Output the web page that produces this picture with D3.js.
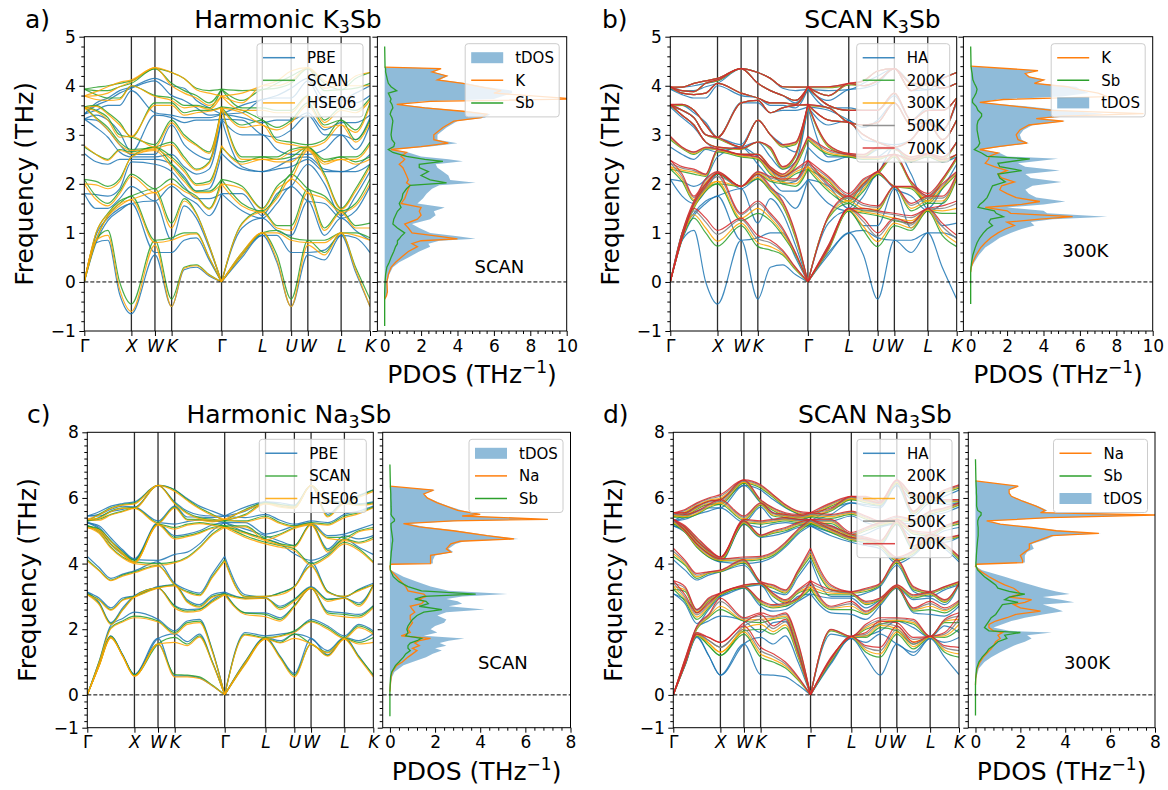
<!DOCTYPE html>
<html lang="en">
<head>
<meta charset="UTF-8">
<title>Phonon bands and PDOS of K3Sb and Na3Sb</title>
<script src="https://d3js.org/d3.v7.min.js"></script>
<style>
  body { margin: 0; background: #fff; }
  svg { display: block; }
</style>
</head>
<body>
<svg id="fig" width="1168" height="790"></svg>
<script>
// k-path (cumulative length along Γ-X-W-K-Γ-L-U-W-L-K)
const kPath = [0, 0.25, 0.5, 0.75, 1, 1.5, 1.854, 2.12, 2.38, 2.65, 2.914, 3.35, 3.78, 4.09, 4.392, 4.746, 5.1, 5.453, 5.76, 6.066];
// which table row each k-point reads (Γ, W, L, K come back along the path)
const kRow = [0, 1, 2, 3, 4, 5, 6, 7, 8, 9, 0, 10, 11, 12, 13, 5, 14, 11, 15, 6];
const kTicks = [0, 1, 1.5, 1.854, 2.914, 3.78, 4.392, 4.746, 5.453, 6.066];
const kLabels = ["Γ", "X", "W", "K", "Γ", "L", "U", "W", "L", "K"];
// curves are broken only at Γ, where the acoustic branches have a kink
const kSegments = [[0, 10], [10, 19]];

// band tables: rows = Γ, Γ-X(3), X, W, K, K-Γ(3), Γ-L, L, L-U, U, W-L, L-K ; 12 branches each (THz)
const k3sbPBE = [
  [0,0,0,1.8,1.8,2.62,3.32,3.32,3.32,3.42,3.42,3.42],
  [0.8,0.8,0.95,1.5,1.78,2.45,3.15,3.3,3.4,3.5,3.6,3.65],
  [0.85,1.25,1.3,1.5,1.75,2.4,2.95,3.1,3.3,3.6,3.7,3.75],
  [-0.25,1.45,1.5,1.7,1.9,2.5,2.65,2.8,3.05,3.6,3.85,3.9],
  [-0.65,1.6,1.6,1.95,2.45,2.5,2.55,2.6,2.65,3.9,3.95,3.97],
  [0.55,0.6,1.65,1.65,2.4,2.5,2.55,2.6,3.4,3.45,4.1,4.15],
  [-0.5,0.6,0.85,1.95,2.25,2.4,2.6,3.2,3.35,3.4,3.8,4.0],
  [0.25,0.85,1.55,1.75,1.95,2.15,2.35,2.8,3.25,3.35,3.7,3.95],
  [0.3,0.9,1.3,1.6,1.7,1.85,2.2,2.6,3.3,3.35,3.55,3.7],
  [0.12,0.45,0.7,1.35,1.7,1.9,2.3,2.5,3.3,3.35,3.4,3.55],
  [0.5,0.55,1.1,1.45,1.8,2.3,2.35,3.0,3.3,3.35,3.45,3.6],
  [0.95,0.95,1.3,1.3,1.35,2.25,2.25,3.0,3.0,3.25,3.72,3.72],
  [0.4,0.95,1.05,1.6,1.8,2.3,2.35,2.7,2.95,3.3,3.75,3.8],
  [-0.5,0.6,0.95,1.95,1.95,2.35,2.5,2.6,3.1,3.3,3.75,3.95],
  [0.45,0.65,0.95,1.6,2.0,2.25,2.3,2.7,3.0,3.1,3.6,3.75],
  [0.2,0.9,1.05,1.45,1.75,2.25,2.35,2.7,2.9,3.25,3.65,3.85]
];
const k3sbSCAN = [
  [0,0,0,2.09,2.09,2.75,3.57,3.57,3.57,3.93,3.93,3.93],
  [0.85,0.85,1.0,1.75,2.05,2.6,3.35,3.5,3.6,3.82,3.9,3.97],
  [1.05,1.35,1.4,1.6,1.95,2.5,3.15,3.35,3.45,3.75,3.9,4.0],
  [0.0,1.6,1.65,1.85,2.1,2.7,2.85,3.0,3.25,3.75,3.98,4.05],
  [-0.45,1.75,1.75,2.2,2.55,2.65,2.7,2.95,2.95,4.0,4.05,4.1],
  [0.85,0.85,1.9,1.9,2.75,2.75,2.75,2.8,3.65,3.8,4.35,4.35],
  [-0.35,0.9,1.2,2.1,2.4,2.55,2.85,3.3,3.65,3.75,4.05,4.27],
  [0.3,1.0,1.7,1.9,2.1,2.3,2.55,3.0,3.45,3.6,3.9,4.15],
  [0.35,1.0,1.4,1.75,1.85,2.0,2.3,2.8,3.5,3.6,3.8,3.95],
  [0.15,0.5,0.75,1.5,1.85,2.05,2.45,2.65,3.5,3.55,3.65,3.9],
  [0.55,0.6,1.2,1.6,1.95,2.45,2.55,3.2,3.5,3.55,3.7,3.9],
  [1.0,1.0,1.45,1.45,1.5,2.55,2.55,3.3,3.3,3.55,3.92,3.92],
  [0.55,1.05,1.15,1.75,1.95,2.5,2.55,2.9,3.15,3.5,3.95,4.05],
  [-0.35,0.9,1.15,2.2,2.2,2.55,2.7,2.85,3.3,3.5,4.05,4.2],
  [0.6,0.85,1.1,1.75,2.2,2.45,2.5,2.9,3.2,3.3,3.9,4.05],
  [0.3,1.0,1.15,1.6,1.9,2.45,2.55,2.9,3.1,3.5,3.95,4.15]
];
const k3sbHSE06 = [
  [0,0,0,2.0,2.0,2.78,3.55,3.55,3.55,3.79,3.79,3.79],
  [0.85,0.85,1.0,1.68,1.98,2.6,3.33,3.48,3.58,3.72,3.8,3.88],
  [0.95,1.33,1.38,1.55,1.9,2.48,3.1,3.3,3.42,3.7,3.85,3.98],
  [-0.15,1.55,1.6,1.8,2.05,2.68,2.8,2.95,3.2,3.72,3.98,4.07],
  [-0.6,1.68,1.68,2.15,2.55,2.62,2.68,2.97,2.97,4.0,4.08,4.12],
  [0.75,0.8,1.82,1.82,2.68,2.7,2.72,2.75,3.6,3.78,4.37,4.37],
  [-0.5,0.85,1.1,2.0,2.35,2.5,2.8,3.25,3.6,3.7,4.0,4.27],
  [0.28,0.95,1.65,1.85,2.05,2.25,2.5,2.95,3.4,3.55,3.85,4.15],
  [0.33,0.98,1.38,1.72,1.82,1.97,2.28,2.78,3.45,3.58,3.75,3.92],
  [0.14,0.5,0.74,1.48,1.82,2.0,2.42,2.62,3.48,3.52,3.6,3.85],
  [0.55,0.6,1.18,1.55,1.9,2.4,2.5,3.15,3.45,3.5,3.65,3.85],
  [1.0,1.0,1.42,1.42,1.48,2.5,2.5,3.2,3.2,3.5,4.0,4.0],
  [0.45,1.0,1.1,1.7,1.9,2.45,2.5,2.85,3.1,3.45,4.0,4.1],
  [-0.5,0.85,1.05,2.1,2.1,2.45,2.65,2.8,3.25,3.45,4.1,4.3],
  [0.55,0.8,1.05,1.7,2.15,2.4,2.45,2.85,3.15,3.25,3.95,4.1],
  [0.25,0.95,1.1,1.55,1.85,2.4,2.5,2.85,3.05,3.45,4.0,4.2]
];
const k3sb200K = [
  [0,0,0,2.3,2.3,2.9,3.6,3.6,3.6,3.96,3.96,3.96],
  [0.88,0.88,0.98,2.05,2.25,2.72,3.4,3.5,3.6,3.85,3.9,3.97],
  [1.3,1.5,1.55,1.65,2.2,2.6,3.2,3.35,3.5,3.82,3.88,4.05],
  [1.0,1.85,1.9,2.0,2.15,2.72,2.85,3.0,3.2,3.85,4.05,4.1],
  [0.73,2.0,2.0,2.2,2.65,2.7,2.75,2.92,2.95,4.05,4.1,4.15],
  [1.15,1.25,1.95,1.95,2.55,2.6,2.7,2.75,3.65,3.85,4.35,4.35],
  [0.72,1.4,2.1,2.2,2.5,2.6,2.85,3.3,3.7,3.75,4.05,4.27],
  [0.65,1.25,1.85,2.05,2.2,2.3,2.7,3.0,3.45,3.65,3.9,4.15],
  [0.55,0.95,1.55,2.0,2.05,2.15,2.3,2.75,3.55,3.65,3.8,3.98],
  [0.25,0.55,0.9,1.95,2.2,2.35,2.55,2.8,3.6,3.62,3.7,3.97],
  [0.65,0.7,1.3,1.85,2.05,2.6,2.75,3.3,3.55,3.6,3.8,3.96],
  [1.45,1.45,1.6,1.6,1.65,2.55,2.58,3.25,3.25,3.5,4.02,4.02],
  [1.05,1.4,1.45,1.85,2.0,2.5,2.55,3.0,3.2,3.5,4.0,4.1],
  [0.72,1.35,1.45,2.2,2.2,2.5,2.72,2.85,3.25,3.5,4.1,4.3],
  [1.05,1.2,1.45,1.9,2.0,2.45,2.5,2.9,3.2,3.3,3.9,4.05],
  [0.95,1.4,1.6,1.9,2.05,2.45,2.5,2.9,3.1,3.5,3.95,4.15]
];
const k3sb300K = [
  [0,0,0,2.35,2.35,2.93,3.6,3.6,3.6,3.97,3.97,3.97],
  [0.89,0.89,0.99,2.1,2.28,2.73,3.4,3.5,3.61,3.85,3.9,3.97],
  [1.37,1.53,1.58,1.68,2.24,2.62,3.2,3.35,3.5,3.82,3.88,4.05],
  [1.1,1.88,1.93,2.03,2.17,2.73,2.85,3.0,3.2,3.85,4.05,4.1],
  [0.83,2.05,2.05,2.22,2.67,2.7,2.75,2.93,2.95,4.05,4.11,4.15],
  [1.2,1.3,1.95,1.95,2.57,2.6,2.71,2.75,3.65,3.85,4.35,4.35],
  [0.8,1.5,2.13,2.22,2.52,2.6,2.85,3.3,3.7,3.75,4.05,4.27],
  [0.72,1.3,1.88,2.08,2.24,2.32,2.72,3.0,3.45,3.65,3.9,4.15],
  [0.58,1.0,1.58,2.03,2.08,2.17,2.32,2.77,3.55,3.65,3.8,3.98],
  [0.27,0.57,0.93,2.0,2.24,2.39,2.57,2.82,3.6,3.62,3.7,3.97],
  [0.67,0.72,1.32,1.9,2.08,2.63,2.77,3.3,3.55,3.6,3.8,3.97],
  [1.47,1.47,1.65,1.65,1.7,2.57,2.6,3.25,3.25,3.5,4.03,4.03],
  [1.13,1.43,1.5,1.9,2.03,2.52,2.57,3.0,3.2,3.5,4.0,4.1],
  [0.82,1.38,1.48,2.22,2.22,2.52,2.73,2.85,3.25,3.5,4.1,4.3],
  [1.1,1.25,1.5,1.92,2.02,2.47,2.52,2.9,3.2,3.3,3.9,4.05],
  [1.03,1.45,1.65,1.93,2.07,2.47,2.52,2.9,3.1,3.5,3.95,4.15]
];
const k3sb500K = [
  [0,0,0,2.42,2.42,2.95,3.61,3.61,3.61,3.97,3.97,3.97],
  [0.9,0.9,1.0,2.15,2.32,2.74,3.4,3.5,3.62,3.85,3.9,3.97],
  [1.45,1.57,1.62,1.72,2.27,2.64,3.2,3.35,3.5,3.82,3.88,4.05],
  [1.22,1.92,1.97,2.07,2.19,2.74,2.85,3.0,3.2,3.85,4.05,4.1],
  [0.97,2.15,2.15,2.24,2.69,2.71,2.75,2.94,2.95,4.05,4.12,4.15],
  [1.27,1.37,1.95,1.95,2.59,2.6,2.72,2.75,3.65,3.85,4.35,4.35],
  [0.88,1.6,2.17,2.24,2.54,2.6,2.85,3.3,3.7,3.75,4.05,4.27],
  [0.8,1.36,1.92,2.12,2.28,2.34,2.74,3.0,3.45,3.65,3.9,4.15],
  [0.62,1.06,1.62,2.07,2.12,2.19,2.34,2.79,3.55,3.65,3.8,3.98],
  [0.29,0.59,0.97,2.06,2.28,2.43,2.59,2.84,3.6,3.62,3.7,3.97],
  [0.69,0.74,1.34,1.96,2.12,2.67,2.79,3.3,3.55,3.6,3.8,3.98],
  [1.49,1.49,1.71,1.71,1.76,2.59,2.61,3.25,3.25,3.5,4.04,4.04],
  [1.23,1.47,1.56,1.96,2.07,2.54,2.59,3.0,3.2,3.5,4.0,4.1],
  [0.93,1.42,1.52,2.24,2.24,2.54,2.74,2.85,3.25,3.5,4.1,4.3],
  [1.16,1.31,1.56,1.94,2.04,2.49,2.54,2.9,3.2,3.3,3.9,4.05],
  [1.13,1.5,1.71,1.97,2.09,2.49,2.54,2.9,3.1,3.5,3.95,4.15]
];
const k3sb700K = [
  [0,0,0,2.48,2.48,2.97,3.62,3.62,3.62,3.98,3.98,3.98],
  [0.9,0.9,1.0,2.2,2.35,2.75,3.4,3.5,3.62,3.85,3.9,3.97],
  [1.5,1.6,1.65,1.75,2.3,2.65,3.2,3.35,3.5,3.82,3.88,4.05],
  [1.3,1.95,2.0,2.1,2.2,2.75,2.85,3.0,3.2,3.85,4.05,4.1],
  [1.05,2.22,2.22,2.25,2.7,2.72,2.75,2.95,2.95,4.05,4.12,4.15],
  [1.3,1.4,1.95,1.95,2.6,2.6,2.72,2.75,3.65,3.85,4.35,4.35],
  [0.95,1.65,2.2,2.25,2.55,2.6,2.85,3.3,3.7,3.75,4.05,4.27],
  [0.85,1.4,1.95,2.15,2.3,2.35,2.75,3.0,3.45,3.65,3.9,4.15],
  [0.65,1.1,1.65,2.1,2.15,2.2,2.35,2.8,3.55,3.65,3.8,3.98],
  [0.3,0.6,1.0,2.1,2.3,2.45,2.6,2.85,3.6,3.62,3.7,3.97],
  [0.7,0.75,1.35,2.0,2.15,2.7,2.8,3.3,3.55,3.6,3.8,3.98],
  [1.5,1.5,1.75,1.75,1.8,2.6,2.62,3.25,3.25,3.5,4.05,4.05],
  [1.3,1.5,1.6,2.0,2.1,2.55,2.6,3.0,3.2,3.5,4.0,4.1],
  [1.0,1.45,1.55,2.25,2.25,2.55,2.75,2.85,3.25,3.5,4.1,4.3],
  [1.2,1.35,1.6,1.95,2.05,2.5,2.55,2.9,3.2,3.3,3.9,4.05],
  [1.2,1.55,1.75,2.0,2.1,2.5,2.55,2.9,3.1,3.5,3.95,4.15]
];

const na3sbPBE = [
  [0,0,0,3.13,3.13,4.22,5.25,5.25,5.25,5.45,5.45,5.45],
  [0.92,0.92,1.02,2.82,2.95,3.88,5.05,5.1,5.15,5.45,5.5,5.58],
  [1.78,1.8,2.12,2.2,2.65,3.55,4.58,4.68,4.78,5.58,5.65,5.75],
  [1.22,1.22,2.33,2.65,2.95,3.68,4.28,4.38,4.42,5.65,5.75,5.83],
  [0.62,0.62,2.52,3.02,3.02,3.78,4.12,4.12,4.15,5.72,5.72,5.88],
  [1.72,1.72,2.3,3.25,3.3,4.05,4.1,5.22,5.25,5.3,6.38,6.38],
  [0.58,1.86,1.95,2.72,3.35,3.4,4.28,4.85,5.2,5.75,5.88,6.25],
  [0.58,1.62,2.25,2.6,2.9,3.2,4.35,4.9,5.28,5.42,5.6,5.98],
  [0.52,1.85,2.3,2.62,2.75,3.1,4.6,5.0,5.32,5.42,5.48,5.75],
  [0.28,1.02,1.38,2.9,3.05,3.68,5.0,5.18,5.3,5.4,5.45,5.6],
  [0.97,1.02,1.9,2.5,2.95,3.05,4.95,5.05,5.25,5.4,5.6,5.72],
  [1.75,1.75,1.8,2.5,2.95,2.98,4.75,4.85,4.9,5.5,5.88,5.88],
  [1.18,1.65,1.85,2.35,2.7,3.12,4.6,4.68,5.0,5.32,5.8,5.85],
  [0.65,1.85,1.92,2.72,2.92,3.3,4.3,4.55,5.15,5.2,5.72,5.78],
  [1.22,1.35,2.1,2.55,2.92,3.15,4.3,4.45,4.85,5.25,5.5,5.92],
  [1.18,1.65,2.15,2.45,2.8,3.22,4.5,4.75,5.05,5.6,5.82,6.08]
];
const na3sbSCAN = [
  [0,0,0,3.08,3.08,4.12,5.15,5.15,5.15,5.3,5.3,5.3],
  [0.9,0.9,1.0,2.78,2.9,3.8,4.95,5.0,5.05,5.35,5.4,5.5],
  [1.75,1.78,2.05,2.17,2.6,3.5,4.5,4.6,4.7,5.5,5.6,5.7],
  [1.2,1.2,2.25,2.6,2.9,3.65,4.2,4.3,4.35,5.6,5.7,5.8],
  [0.6,0.6,2.4,3.0,3.0,3.75,4.05,4.05,4.1,5.7,5.7,5.85],
  [1.55,1.55,2.25,3.25,3.27,3.95,4.0,5.2,5.2,5.25,6.38,6.38],
  [0.62,1.75,1.9,2.7,3.35,3.35,4.05,4.8,5.1,5.72,5.85,6.24],
  [0.6,1.55,2.2,2.55,2.85,3.15,4.2,4.85,5.2,5.35,5.55,5.95],
  [0.55,1.8,2.25,2.6,2.7,3.05,4.5,4.95,5.25,5.35,5.4,5.7],
  [0.3,1.0,1.35,2.85,3.0,3.6,4.9,5.1,5.2,5.3,5.35,5.5],
  [0.95,1.0,1.85,2.5,2.95,3.0,4.85,4.95,5.15,5.3,5.5,5.65],
  [1.72,1.72,1.75,2.45,2.95,3.0,4.65,4.75,4.8,5.45,5.85,5.85],
  [1.15,1.6,1.8,2.3,2.65,3.1,4.55,4.6,4.9,5.25,5.75,5.8],
  [0.6,1.85,1.95,2.72,2.9,3.3,4.45,4.55,5.1,5.15,5.7,5.75],
  [1.2,1.3,2.05,2.5,2.9,3.15,4.25,4.4,4.8,5.2,5.45,5.9],
  [1.15,1.6,2.1,2.4,2.75,3.2,4.45,4.65,5.0,5.55,5.8,6.05]
];
const na3sbHSE06 = [
  [0,0,0,3.05,3.05,4.08,5.1,5.1,5.1,5.35,5.35,5.35],
  [0.88,0.88,0.98,2.75,2.88,3.78,4.92,4.98,5.02,5.32,5.38,5.48],
  [1.73,1.76,2.02,2.14,2.58,3.48,4.47,4.57,4.67,5.48,5.58,5.68],
  [1.18,1.18,2.22,2.58,2.88,3.62,4.17,4.27,4.32,5.58,5.68,5.78],
  [0.57,0.57,2.35,2.98,2.98,3.72,4.0,4.02,4.05,5.68,5.68,5.82],
  [1.55,1.55,2.22,3.25,3.25,3.92,3.95,5.18,5.18,5.22,6.38,6.38],
  [0.55,1.6,1.85,2.65,3.32,3.35,4.02,4.75,5.05,5.7,5.82,6.2],
  [0.55,1.5,2.15,2.52,2.82,3.12,4.17,4.82,5.17,5.32,5.52,5.92],
  [0.5,1.76,2.2,2.56,2.67,3.02,4.47,4.92,5.22,5.32,5.37,5.67],
  [0.28,0.98,1.32,2.82,2.97,3.57,4.87,5.07,5.17,5.27,5.32,5.47],
  [0.93,0.98,1.82,2.45,2.92,2.98,4.8,4.92,5.12,5.27,5.47,5.62],
  [1.7,1.7,1.72,2.38,2.95,3.0,4.6,4.7,4.72,5.4,5.82,5.82],
  [1.12,1.58,1.78,2.25,2.6,3.05,4.5,4.57,4.87,5.22,5.72,5.77],
  [0.55,1.72,1.9,2.68,2.85,3.28,4.4,4.5,5.07,5.12,5.68,5.72],
  [1.18,1.28,2.0,2.45,2.85,3.12,4.2,4.35,4.77,5.17,5.42,5.87],
  [1.12,1.55,2.05,2.35,2.7,3.17,4.4,4.62,4.97,5.52,5.77,6.02]
];
const na3sb200K = [
  [0,0,0,3.22,3.22,4.22,5.22,5.22,5.22,5.42,5.42,5.42],
  [0.92,0.97,1.05,2.85,3.15,3.95,4.95,5.0,5.05,5.4,5.45,5.55],
  [1.8,1.85,2.0,2.3,2.5,3.55,4.5,4.6,4.7,5.5,5.65,5.75],
  [1.5,1.5,2.35,2.65,2.85,3.7,4.2,4.3,4.35,5.7,5.8,5.9],
  [1.2,1.2,2.6,3.05,3.05,3.75,4.08,4.1,4.12,5.8,5.8,5.95],
  [1.85,1.95,2.25,3.27,3.3,4.02,4.08,5.22,5.25,5.32,6.45,6.45],
  [1.15,2.0,2.2,2.78,3.38,3.4,4.12,4.82,5.2,5.78,5.88,6.3],
  [1.0,1.85,2.3,2.65,3.0,3.25,4.25,4.92,5.25,5.45,5.62,6.02],
  [0.82,2.05,2.35,2.7,2.8,3.1,4.55,5.0,5.3,5.4,5.45,5.72],
  [0.45,1.15,1.45,2.9,3.1,3.7,4.95,5.15,5.25,5.35,5.4,5.52],
  [1.02,1.08,1.95,2.6,3.05,3.2,4.95,5.05,5.22,5.38,5.6,5.75],
  [1.76,1.76,1.76,2.6,3.05,3.1,4.7,4.8,4.85,5.5,5.95,5.95],
  [1.3,1.75,2.0,2.45,2.75,3.15,4.65,4.7,5.0,5.35,5.85,5.92],
  [1.15,2.05,2.15,2.78,2.9,3.35,4.52,4.62,5.15,5.2,5.78,5.82],
  [1.4,1.55,2.15,2.55,2.95,3.2,4.3,4.45,4.9,5.27,5.52,6.0],
  [1.3,1.75,2.2,2.5,2.82,3.25,4.52,4.72,5.08,5.62,5.88,6.15]
];
const na3sb300K = [
  [0,0,0,3.3,3.3,4.3,5.26,5.26,5.26,5.46,5.46,5.46],
  [0.93,0.98,1.07,2.92,3.2,4.0,4.97,5.05,5.1,5.43,5.48,5.58],
  [1.82,1.87,2.03,2.37,2.53,3.6,4.53,4.63,4.73,5.53,5.68,5.78],
  [1.58,1.58,2.38,2.7,2.88,3.72,4.23,4.33,4.38,5.73,5.83,5.93],
  [1.3,1.3,2.7,3.07,3.07,3.77,4.1,4.13,4.15,5.85,5.85,6.0],
  [1.92,2.02,2.28,3.28,3.32,4.05,4.12,5.25,5.28,5.36,6.48,6.48],
  [1.25,2.15,2.3,2.82,3.39,3.42,4.16,4.84,5.24,5.8,5.9,6.34],
  [1.08,1.93,2.33,2.68,3.03,3.28,4.29,4.95,5.29,5.48,5.65,6.05],
  [0.88,2.13,2.4,2.74,2.84,3.13,4.59,5.04,5.34,5.44,5.49,5.75],
  [0.48,1.2,1.5,2.92,3.14,3.74,4.99,5.19,5.29,5.39,5.44,5.55],
  [1.05,1.1,1.97,2.64,3.1,3.25,4.99,5.09,5.27,5.43,5.64,5.79],
  [1.77,1.77,1.77,2.7,3.08,3.12,4.74,4.84,4.88,5.54,5.98,5.98],
  [1.37,1.8,2.05,2.48,2.78,3.2,4.69,4.74,5.04,5.39,5.89,5.97],
  [1.25,2.12,2.22,2.8,2.92,3.37,4.55,4.65,5.19,5.24,5.8,5.85],
  [1.47,1.62,2.2,2.59,2.99,3.24,4.34,4.49,4.94,5.3,5.55,6.04],
  [1.37,1.8,2.24,2.56,2.85,3.27,4.55,4.75,5.11,5.65,5.91,6.19]
];
const na3sb500K = [
  [0,0,0,3.4,3.4,4.38,5.3,5.3,5.3,5.5,5.5,5.5],
  [0.94,0.99,1.09,2.98,3.25,4.05,4.99,5.08,5.12,5.47,5.52,5.62],
  [1.84,1.89,2.07,2.44,2.57,3.65,4.57,4.67,4.77,5.57,5.72,5.82],
  [1.66,1.66,2.42,2.75,2.92,3.74,4.27,4.37,4.42,5.77,5.87,5.97],
  [1.45,1.45,2.85,3.09,3.09,3.79,4.13,4.17,4.18,5.9,5.9,6.05],
  [2.0,2.1,2.32,3.29,3.34,4.09,4.16,5.28,5.32,5.41,6.52,6.52],
  [1.35,2.3,2.4,2.85,3.4,3.44,4.19,4.86,5.27,5.83,5.93,6.37],
  [1.17,2.02,2.37,2.72,3.07,3.32,4.32,4.98,5.32,5.52,5.68,6.08],
  [0.94,2.22,2.45,2.77,2.87,3.17,4.62,5.07,5.37,5.47,5.52,5.78],
  [0.52,1.25,1.55,2.94,3.17,3.77,5.02,5.22,5.32,5.42,5.47,5.58],
  [1.08,1.13,1.99,2.67,3.15,3.3,5.02,5.12,5.31,5.47,5.67,5.82],
  [1.78,1.78,1.78,2.78,3.1,3.14,4.77,4.87,4.9,5.57,6.02,6.02],
  [1.44,1.85,2.1,2.52,2.82,3.22,4.72,4.77,5.07,5.42,5.92,6.01],
  [1.35,2.18,2.28,2.83,2.94,3.38,4.58,4.68,5.22,5.27,5.83,5.88],
  [1.54,1.69,2.25,2.62,3.02,3.27,4.37,4.52,4.97,5.33,5.58,6.07],
  [1.44,1.85,2.27,2.6,2.88,3.29,4.58,4.78,5.13,5.68,5.93,6.22]
];
const na3sb700K = [
  [0,0,0,3.48,3.48,4.47,5.35,5.35,5.35,5.55,5.55,5.55],
  [0.95,1.0,1.1,3.05,3.3,4.1,5.0,5.1,5.15,5.5,5.55,5.65],
  [1.85,1.9,2.1,2.5,2.6,3.7,4.6,4.7,4.8,5.6,5.75,5.85],
  [1.75,1.75,2.45,2.8,2.95,3.75,4.3,4.4,4.45,5.8,5.9,6.0],
  [1.6,1.6,2.95,3.1,3.1,3.8,4.15,4.2,4.2,5.95,5.95,6.1],
  [2.1,2.2,2.35,3.3,3.35,4.12,4.2,5.3,5.35,5.45,6.55,6.55],
  [1.45,2.45,2.5,2.88,3.4,3.45,4.22,4.87,5.3,5.85,5.95,6.4],
  [1.25,2.1,2.4,2.75,3.1,3.35,4.35,5.0,5.35,5.55,5.7,6.1],
  [1.0,2.3,2.5,2.8,2.9,3.2,4.65,5.1,5.4,5.5,5.55,5.8],
  [0.55,1.3,1.6,2.95,3.2,3.8,5.05,5.25,5.35,5.45,5.5,5.6],
  [1.1,1.15,2.0,2.7,3.2,3.35,5.05,5.15,5.35,5.5,5.7,5.85],
  [1.78,1.78,1.78,2.85,3.12,3.15,4.8,4.9,4.95,5.6,6.05,6.05],
  [1.5,1.9,2.15,2.55,2.85,3.25,4.75,4.8,5.1,5.45,5.95,6.05],
  [1.45,2.25,2.35,2.85,2.95,3.4,4.6,4.7,5.25,5.3,5.85,5.9],
  [1.6,1.75,2.3,2.65,3.05,3.3,4.4,4.55,5.0,5.35,5.6,6.1],
  [1.5,1.9,2.3,2.65,2.9,3.3,4.6,4.8,5.15,5.7,5.95,6.25]
];

// projected DOS (frequency in THz, DOS in 1/THz); null = not plotted
const k3sbScanFreq = [4.8,4.38,4.35,4.28,4.2,4.12,4.05,3.98,3.9,3.85,3.73,3.68,3.62,3.55,3.48,3.42,3.35,3.28,3.15,3.0,2.9,2.83,2.76,2.7,2.64,2.56,2.5,2.46,2.4,2.33,2.25,2.17,2.08,2.02,1.97,1.9,1.8,1.7,1.6,1.52,1.44,1.36,1.28,1.18,1.1,1.0,0.93,0.88,0.84,0.78,0.72,0.62,0.5,0.4,0.3,0.15,0.0,-0.2,-0.28,-0.35,-0.9];
const k3sbScanTdos = [null,0,3.1,2.7,3.5,3.0,4.5,5.5,7.0,7.0,6.0,2.0,0.8,2.5,4.5,5.8,5.5,4.0,3.4,2.9,2.9,4.0,2.5,0.5,1.3,2.0,3.5,4.3,2.8,2.9,3.2,3.5,3.6,5.0,3.0,2.6,2.3,2.1,1.8,3.3,2.7,2.8,2.5,1.5,1.9,2.5,4.0,5.0,3.0,2.4,2.5,1.9,1.3,0.8,0.45,0.25,0.15,0.15,0.1,0,null];
const k3sbScanK = [null,0,3.1,2.6,3.4,2.9,4.3,5.2,6.4,6.0,10.5,2.5,0.66,2.2,4.3,5.6,5.3,3.8,3.2,2.7,2.7,3.5,2.0,0.35,1.2,0.9,1.1,1.0,0.8,1.0,1.1,1.2,1.3,1.2,1.4,1.3,1.2,1.1,0.9,2.0,1.9,2.0,1.8,1.1,1.3,1.5,3.0,4.0,2.0,1.5,1.8,1.3,0.9,0.6,0.35,0.2,0.12,0.15,0.1,0,null];
const k3sbScanSb = [0,0.02,0.05,0.05,0.1,0.15,0.2,0.35,0.66,0.2,0.35,0.3,0.4,0.45,0.35,0.3,0.4,0.45,0.4,0.35,0.4,0.55,0.5,0.2,0.45,1.2,2.2,3.2,1.9,1.9,2.4,2.0,2.5,3.4,1.4,1.2,1.0,0.95,0.8,0.9,0.7,0.6,0.5,0.45,0.7,1.1,0.9,0.8,0.7,0.7,0.6,0.5,0.35,0.25,0.12,0.05,0.02,0,0,0,0];

const k3sb300Freq = [4.8,4.4,4.31,4.25,4.18,4.12,4.05,3.98,3.93,3.85,3.78,3.72,3.66,3.58,3.5,3.43,3.38,3.33,3.28,3.2,3.1,3.0,2.9,2.83,2.76,2.7,2.63,2.56,2.51,2.42,2.35,2.27,2.2,2.12,2.04,1.96,1.88,1.8,1.72,1.64,1.58,1.52,1.45,1.4,1.33,1.28,1.22,1.15,1.08,1.0,0.9,0.8,0.7,0.55,0.4,0.3,0.2,-0.45];
const k3sb300Tdos = [null,0,3.7,3.0,3.3,4.1,3.6,5.8,6.0,6.5,5.0,1.5,0.6,3.0,5.0,7.3,5.5,3.8,5.2,3.4,2.9,2.7,2.8,3.2,1.8,0.6,1.6,2.0,4.8,2.6,3.0,4.9,3.0,3.3,5.0,3.4,3.0,3.2,3.6,5.2,4.0,2.0,4.0,4.2,7.5,4.5,3.3,3.5,2.8,2.2,1.6,1.2,0.8,0.45,0.2,0.05,0,null];
const k3sb300K_K = [null,0,3.7,3.0,3.2,4.0,3.5,5.3,5.8,7.0,7.5,1.8,0.5,2.5,4.5,9.5,5.0,3.6,5.1,3.2,2.7,2.5,2.6,3.1,1.5,0.5,1.5,1.0,1.0,0.8,1.3,2.0,1.5,1.7,2.4,1.7,1.6,2.0,2.5,3.8,2.8,0.8,2.0,2.2,5.6,3.8,2.0,2.4,1.9,1.5,1.1,0.8,0.55,0.3,0.12,0.03,0,null];
const k3sb300Sb = [0,0.02,0.05,0.08,0.1,0.12,0.2,0.3,0.35,0.3,0.2,0.1,0.1,0.3,0.4,0.6,0.6,0.5,0.4,0.35,0.35,0.4,0.45,0.5,0.4,0.2,0.6,0.9,3.25,1.5,1.6,2.8,1.5,1.6,1.9,1.2,1.1,1.0,0.9,0.7,0.5,0.4,1.3,1.4,1.8,1.1,1.0,1.2,0.9,0.7,0.5,0.35,0.25,0.12,0.05,0.02,0,0];

const na3sbScanFreq = [7.02,6.36,6.24,6.12,6.0,5.85,5.75,5.62,5.5,5.45,5.35,5.3,5.22,5.12,5.0,4.85,4.75,4.68,4.6,4.45,4.35,4.25,4.1,4.0,3.98,3.92,3.8,3.6,3.45,3.3,3.17,3.07,3.0,2.92,2.85,2.78,2.7,2.6,2.52,2.42,2.3,2.2,2.1,2.0,1.9,1.8,1.72,1.65,1.58,1.5,1.42,1.35,1.25,1.15,1.0,0.9,0.7,0.55,0.3,0.1,-0.65];
const na3sbScanTdos = [null,0,2.0,1.5,1.7,2.2,2.6,3.2,4.0,3.3,7.0,3.0,0.8,1.5,3.0,4.5,5.7,3.3,2.9,2.6,2.8,2.0,1.9,1.9,0.1,0,0.05,0.6,1.2,1.8,2.6,5.2,3.2,2.5,3.0,3.2,2.6,4.2,2.5,2.1,2.5,2.4,2.0,1.8,2.1,1.5,3.3,2.6,2.2,2.5,2.0,2.3,1.9,1.6,1.0,0.6,0.2,0.1,0.03,0,null];
const na3sbScanNa = [null,0,1.93,1.5,1.65,2.1,2.5,3.0,4.0,3.2,7.0,2.8,0.6,1.3,2.8,4.3,5.5,3.1,2.7,2.5,2.7,1.8,1.8,1.8,0.05,0,0.02,0.3,0.5,0.7,0.8,1.5,1.6,1.3,1.5,1.4,0.9,1.0,1.1,0.9,0.9,1.0,0.9,0.8,0.9,0.5,1.8,1.3,1.1,1.3,1.0,1.2,1.0,0.8,0.55,0.3,0.1,0.05,0.02,0,null];
const na3sbScanSb = [0,0.02,0.03,0.04,0.04,0.05,0.05,0.06,0.05,0.08,0.2,0.2,0.05,0.05,0.07,0.1,0.12,0.12,0.1,0.08,0.06,0.05,0.03,0.02,0.02,0.02,0.02,0.15,0.4,0.8,1.4,3.8,1.5,1.1,1.6,1.7,1.3,2.3,1.5,1.2,1.0,0.9,0.8,0.75,0.8,0.7,1.4,1.2,0.9,0.8,0.8,0.9,0.7,0.6,0.4,0.25,0.08,0.03,0.01,0,0];

const na3sb300Freq = [7.18,6.52,6.36,6.25,6.15,6.05,5.9,5.75,5.62,5.55,5.48,5.4,5.3,5.2,5.1,5.0,4.92,4.85,4.75,4.6,4.45,4.35,4.25,4.1,4.03,3.98,3.92,3.8,3.6,3.45,3.35,3.25,3.15,3.07,2.98,2.9,2.82,2.75,2.65,2.55,2.45,2.35,2.25,2.15,2.05,1.95,1.9,1.82,1.72,1.62,1.5,1.4,1.3,1.15,1.0,0.8,0.5,0.3,-0.63];
const na3sb300Tdos = [null,0,1.95,1.5,1.5,1.6,2.2,2.8,3.2,3.0,8.0,3.5,0.5,1.2,2.6,3.8,5.6,3.5,3.2,2.5,2.6,2.3,2.2,2.2,2.2,0.1,0,0.3,1.3,2.0,2.5,3.0,3.6,4.2,3.0,3.8,4.4,3.0,3.5,3.9,3.0,2.2,1.6,1.2,0.8,1.5,3.4,2.3,2.5,2.2,1.7,1.4,1.1,0.7,0.4,0.15,0.03,0,null];
const na3sb300Na = [null,0,1.9,1.5,1.5,1.6,2.1,2.7,3.1,2.9,8.0,3.3,0.5,1.1,2.5,3.6,5.5,3.4,3.0,2.4,2.4,2.2,2.0,2.1,2.1,0.05,0,0.15,0.6,1.0,1.3,1.7,1.9,2.0,1.5,2.5,2.2,1.7,2.0,2.9,1.8,1.4,0.9,0.6,0.6,0.8,1.2,1.0,1.1,0.9,0.8,0.7,0.55,0.35,0.2,0.07,0.01,0,null];
const na3sb300Sb = [0,0.02,0.03,0.04,0.04,0.05,0.05,0.05,0.1,0.25,0.25,0.15,0.1,0.1,0.12,0.12,0.12,0.12,0.1,0.08,0.06,0.05,0.04,0.03,0.02,0.02,0.03,0.1,0.4,0.7,0.9,1.0,1.5,2.2,1.5,1.3,1.9,1.2,1.1,1.0,0.9,0.7,0.6,0.5,0.4,0.6,2.0,1.3,1.4,1.0,0.8,0.6,0.5,0.3,0.15,0.05,0.01,0,0];

const FONT = "'DejaVu Sans', 'Liberation Sans', sans-serif";
const C = { blue: "#1f77b4", green: "#2ca02c", orange: "#ffa500", gray: "#7f7f7f", red: "#d62728", dark: "#ff7f0e" };

const panels = [
  { tag: "a)", tagX: 25, titleX: 288, titleY: 28.3, title: ["Harmonic K", "3", "Sb"],
    bx0: 84.3, bx1: 370, by0: 36.7, by1: 331, yDomain: [-1, 5], yMajor: [-1, 0, 1, 2, 3, 4, 5],
    px0: 377.4, px1: 566.7, pDomain: [-0.4, 10], pMax: 10, legW: 106,
    series: [{ name: "PBE", color: C.blue, rows: k3sbPBE }, { name: "SCAN", color: C.green, rows: k3sbSCAN }, { name: "HSE06", color: C.orange, rows: k3sbHSE06 }],
    dos: { freq: k3sbScanFreq, tdos: k3sbScanTdos, host: k3sbScanK, sb: k3sbScanSb, hostName: "K" },
    dosLegend: ["tDOS", "host", "Sb"], note: "SCAN", noteAt: [6.3, 0.19] },
  { tag: "b)", tagX: 602, titleX: 872.5, titleY: 28.3, title: ["SCAN K", "3", "Sb"],
    bx0: 670.3, bx1: 956.7, by0: 36.7, by1: 331, yDomain: [-1, 5], yMajor: [-1, 0, 1, 2, 3, 4, 5],
    px0: 963.4, px1: 1152.7, pDomain: [-0.4, 10], pMax: 10, legW: 93,
    series: [{ name: "HA", color: C.blue, rows: k3sbSCAN }, { name: "200K", color: C.green, rows: k3sb200K }, { name: "300K", color: C.orange, rows: k3sb300K }, { name: "500K", color: C.gray, rows: k3sb500K }, { name: "700K", color: C.red, rows: k3sb700K }],
    dos: { freq: k3sb300Freq, tdos: k3sb300Tdos, host: k3sb300K_K, sb: k3sb300Sb, hostName: "K" },
    dosLegend: ["host", "Sb", "tDOS"], note: "300K", noteAt: [6.3, 0.5] },
  { tag: "c)", tagX: 27, titleX: 289, titleY: 423.3, title: ["Harmonic Na", "3", "Sb"],
    bx0: 87.3, bx1: 373.3, by0: 432.3, by1: 727.7, yDomain: [-1, 8], yMajor: [-1, 0, 2, 4, 6, 8],
    px0: 382.7, px1: 570.5, pDomain: [-0.32, 8], pMax: 8, legW: 107,
    series: [{ name: "PBE", color: C.blue, rows: na3sbPBE }, { name: "SCAN", color: C.green, rows: na3sbSCAN }, { name: "HSE06", color: C.orange, rows: na3sbHSE06 }],
    dos: { freq: na3sbScanFreq, tdos: na3sbScanTdos, host: na3sbScanNa, sb: na3sbScanSb, hostName: "Na" },
    dosLegend: ["tDOS", "host", "Sb"], note: "SCAN", noteAt: [5.0, 0.8] },
  { tag: "d)", tagX: 603, titleX: 875, titleY: 423.3, title: ["SCAN Na", "3", "Sb"],
    bx0: 673.3, bx1: 959, by0: 432.3, by1: 727.7, yDomain: [-1, 8], yMajor: [-1, 0, 2, 4, 6, 8],
    px0: 968.3, px1: 1155, pDomain: [-0.32, 8], pMax: 8, legW: 95,
    series: [{ name: "HA", color: C.blue, rows: na3sbSCAN }, { name: "200K", color: C.green, rows: na3sb200K }, { name: "300K", color: C.orange, rows: na3sb300K }, { name: "500K", color: C.gray, rows: na3sb500K }, { name: "700K", color: C.red, rows: na3sb700K }],
    dos: { freq: na3sb300Freq, tdos: na3sb300Tdos, host: na3sb300Na, sb: na3sb300Sb, hostName: "Na" },
    dosLegend: ["host", "Sb", "tDOS"], note: "300K", noteAt: [4.97, 0.8] }
];

const svg = d3.select("#fig").attr("font-family", FONT);
svg.append("rect").attr("width", 1168).attr("height", 790).attr("fill", "#fff");

function minorTicks(lo, hi, step, majors) {
  const n = Math.round((hi - lo) / step);
  return d3.range(n + 1).map(i => +(lo + i * step).toFixed(3)).filter(v => !majors.includes(v));
}

function drawLegend(g, right, top, width, items) {
  const h = 28 + 22.6 * (items.length - 1);
  const left = right - width;
  const lg = g.append("g");
  lg.append("rect").attr("x", left).attr("y", top).attr("width", width).attr("height", h)
    .attr("rx", 3).attr("fill", "#fff").attr("fill-opacity", 0.8).attr("stroke", "#cccccc").attr("stroke-width", 1);
  items.forEach((it, i) => {
    const cy = top + 14 + i * 22.6;
    if (it.patch) {
      lg.append("rect").attr("x", left + 6).attr("y", cy - 5.5).attr("width", 32).attr("height", 11)
        .attr("fill", it.color).attr("fill-opacity", 0.5);
    } else {
      lg.append("line").attr("x1", left + 6).attr("x2", left + 38).attr("y1", cy).attr("y2", cy)
        .attr("stroke", it.color).attr("stroke-width", 1.5).attr("stroke-opacity", it.opacity || 1);
    }
    lg.append("text").attr("x", left + 50).attr("y", cy + 5.5).attr("font-size", 15).text(it.label);
  });
}

function styleAxis(sel) {
  sel.select(".domain").remove();
  sel.attr("font-family", FONT);
  sel.selectAll("line").attr("stroke", "#000").attr("stroke-width", 1);
  sel.selectAll("text").attr("font-size", 17).attr("fill", "#000");
}

function drawPanel(p, idx) {
  const g = svg.append("g");
  const x = d3.scaleLinear().domain([0, kPath[kPath.length - 1]]).range([p.bx0, p.bx1]);
  const y = d3.scaleLinear().domain(p.yDomain).range([p.by1, p.by0]);
  const xd = d3.scaleLinear().domain(p.pDomain).range([p.px0, p.px1]);

  const defs = g.append("defs");
  defs.append("clipPath").attr("id", "cb" + idx).append("rect")
    .attr("x", p.bx0).attr("y", p.by0).attr("width", p.bx1 - p.bx0).attr("height", p.by1 - p.by0);
  defs.append("clipPath").attr("id", "cp" + idx).append("rect")
    .attr("x", p.px0).attr("y", p.by0).attr("width", p.px1 - p.px0).attr("height", p.by1 - p.by0);

  // ---- band structure ----
  const bg = g.append("g").attr("clip-path", `url(#cb${idx})`);
  bg.selectAll("line.hs").data(kTicks.slice(1, -1)).join("line").attr("class", "hs")
    .attr("x1", d => x(d)).attr("x2", d => x(d)).attr("y1", p.by0).attr("y2", p.by1)
    .attr("stroke", "#2b2b2b").attr("stroke-width", 1.3);

  const line = d3.line().x(d => x(d[0])).y(d => y(d[1])).curve(d3.curveMonotoneX);
  p.series.forEach(s => {
    const paths = d3.range(12).map(b =>
      kSegments.map(([i0, i1]) => line(d3.range(i0, i1 + 1).map(i => [kPath[i], s.rows[kRow[i]][b]]))).join(""));
    bg.append("g").selectAll("path").data(paths).join("path")
      .attr("d", d => d).attr("fill", "none").attr("stroke", s.color)
      .attr("stroke-width", 1.2).attr("stroke-opacity", 0.85);
  });
  bg.append("line").attr("x1", p.bx0).attr("x2", p.bx1).attr("y1", y(0)).attr("y2", y(0))
    .attr("stroke", "#000").attr("stroke-width", 1).attr("stroke-dasharray", "4,2");

  drawLegend(g, p.bx1 - 7, p.by0 + 7, p.legW, p.series.map(s => ({ label: s.name, color: s.color, opacity: 0.85 })));

  // ---- projected DOS ----
  const dg = g.append("g").attr("clip-path", `url(#cp${idx})`);
  const D = p.dos.freq.map((f, i) => ({ f, t: p.dos.tdos[i], h: p.dos.host[i], s: p.dos.sb[i] }));
  dg.append("path").datum(D)
    .attr("d", d3.area().defined(d => d.t != null).y(d => y(d.f)).x0(xd(0)).x1(d => xd(d.t)))
    .attr("fill", C.blue).attr("fill-opacity", 0.5);
  dg.append("path").datum(D)
    .attr("d", d3.line().defined(d => d.h != null).y(d => y(d.f)).x(d => xd(d.h)))
    .attr("fill", "none").attr("stroke", C.dark).attr("stroke-width", 1.3);
  dg.append("path").datum(D)
    .attr("d", d3.line().defined(d => d.s != null).y(d => y(d.f)).x(d => xd(d.s)))
    .attr("fill", "none").attr("stroke", C.green).attr("stroke-width", 1.3);
  dg.append("line").attr("x1", p.px0).attr("x2", p.px1).attr("y1", y(0)).attr("y2", y(0))
    .attr("stroke", "#000").attr("stroke-width", 1).attr("stroke-dasharray", "4,2");

  const dosItems = { tDOS: { label: "tDOS", color: C.blue, patch: true }, host: { label: p.dos.hostName, color: C.dark }, Sb: { label: "Sb", color: C.green } };
  drawLegend(g, p.px1 - 7.5, p.by0 + 7, 94, p.dosLegend.map(k => dosItems[k]));

  g.append("text").attr("x", xd(p.noteAt[0])).attr("y", y(p.noteAt[1])).attr("text-anchor", "middle")
    .attr("font-size", 18).text(p.note);

  // ---- axes ----
  const yMinor = minorTicks(p.yDomain[0], p.yDomain[1], 0.2, p.yMajor);
  [p.bx0, p.px0].forEach((ax, j) => {
    const a = g.append("g").attr("transform", `translate(${ax},0)`)
      .call(d3.axisLeft(y).tickValues(p.yMajor).tickSize(5).tickPadding(3.5).tickFormat(j === 0 ? d3.format("d") : ""));
    styleAxis(a);
    const m = g.append("g").attr("transform", `translate(${ax},0)`)
      .call(d3.axisLeft(y).tickValues(yMinor).tickSize(3).tickFormat(""));
    styleAxis(m);
  });

  const kx = g.append("g").attr("transform", `translate(0,${p.by1})`)
    .call(d3.axisBottom(x).tickValues(kTicks).tickSize(5).tickPadding(3.5).tickFormat((d, i) => kLabels[i]));
  styleAxis(kx);
  kx.selectAll("text").attr("font-style", (d, i) => kLabels[i] === "Γ" ? "normal" : "italic");

  const pMajor = d3.range(0, p.pMax + 1, 2);
  const px = g.append("g").attr("transform", `translate(0,${p.by1})`)
    .call(d3.axisBottom(xd).tickValues(pMajor).tickSize(5).tickPadding(3.5).tickFormat(d3.format("d")));
  styleAxis(px);
  const pm = g.append("g").attr("transform", `translate(0,${p.by1})`)
    .call(d3.axisBottom(xd).tickValues(minorTicks(0, p.pMax, 0.4, pMajor)).tickSize(3).tickFormat(""));
  styleAxis(pm);

  [[p.bx0, p.bx1], [p.px0, p.px1]].forEach(([a, b]) => {
    g.append("rect").attr("x", a).attr("y", p.by0).attr("width", b - a).attr("height", p.by1 - p.by0)
      .attr("fill", "none").attr("stroke", "#000").attr("stroke-width", 1);
  });

  // ---- labels ----
  const midY = (p.by0 + p.by1) / 2;
  g.append("text").attr("transform", `translate(${p.bx0 - 51},${midY}) rotate(-90)`)
    .attr("text-anchor", "middle").attr("font-size", 25).text("Frequency (THz)");

  const xl = g.append("text").attr("x", (p.px0 + p.px1) / 2).attr("y", p.by1 + 52)
    .attr("text-anchor", "middle").attr("font-size", 25);
  xl.append("tspan").text("PDOS (THz");
  xl.append("tspan").attr("font-size", 17).attr("dy", -10).text("−1");
  xl.append("tspan").attr("dy", 10).text(")");

  const tt = g.append("text").attr("x", p.titleX).attr("y", p.titleY).attr("text-anchor", "middle").attr("font-size", 25);
  tt.append("tspan").text(p.title[0]);
  tt.append("tspan").attr("font-size", 17.5).attr("dy", 5).text(p.title[1]);
  tt.append("tspan").attr("dy", -5).text(p.title[2]);

  g.append("text").attr("x", p.tagX).attr("y", p.titleY).attr("font-size", 25).text(p.tag);
}

panels.forEach(drawPanel);
</script>
</body>
</html>
